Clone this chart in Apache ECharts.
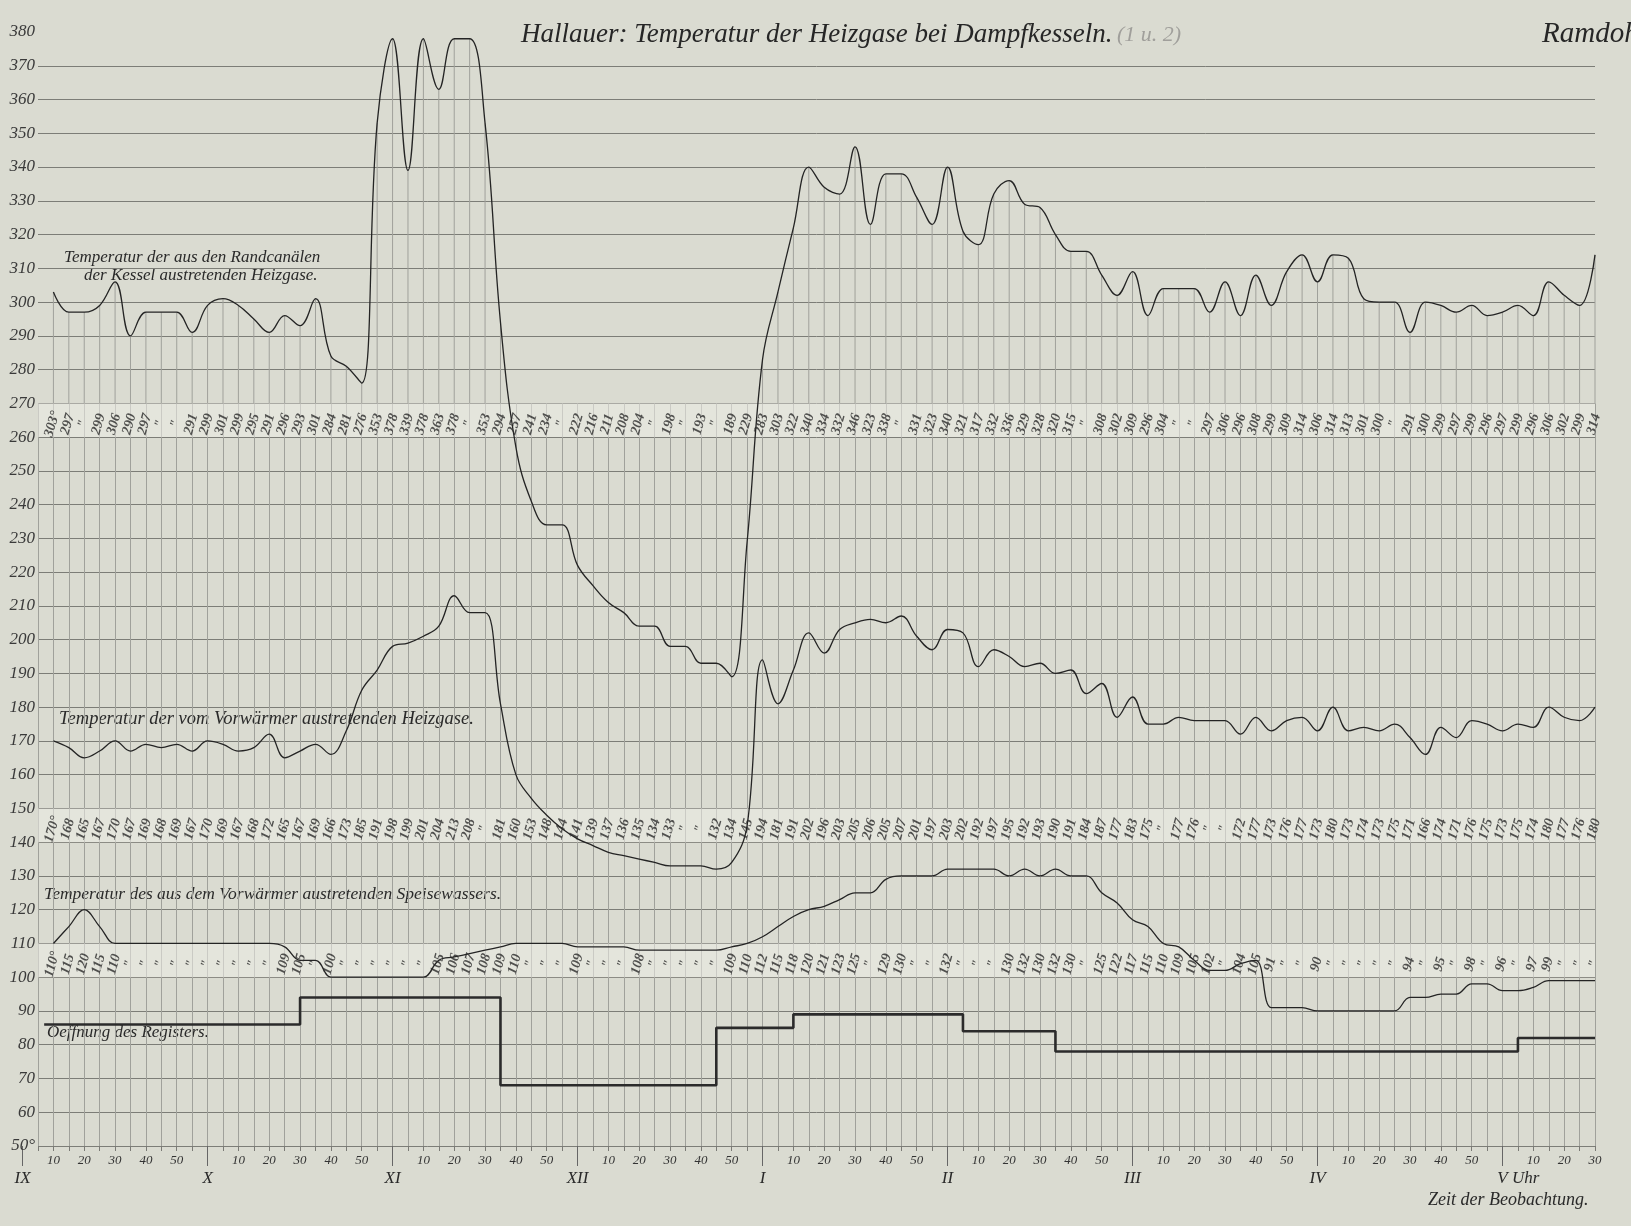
<!DOCTYPE html>
<html><head><meta charset="utf-8">
<script src="https://cdn.jsdelivr.net/npm/echarts@6/dist/echarts.min.js"></script>
<style>html,body{margin:0;padding:0;background:#dadbd1}#c{width:1631px;height:1226px}</style>
</head><body><div id="c"></div>
<script>
// ---- data (minutes after 9:00) ----
const startMinute = 10;   // first reading 9:10
const stepMinutes = 5;
// Temperatur der aus den Randcanälen der Kessel austretenden Heizgase
const randcanalTemp = [303,297,297,299,306,290,297,297,297,291, 299,301,299,295,291,296,293,301,284,281,
  276,353,378,339,378,363,378,378,353,294, 257,241,234,234,222,216,211,208,204,204,
  198,198,193,193,189,229,283,303,322,340, 334,332,346,323,338,338,331,323,340,321,
  317,332,336,329,328,320,315,315,308,302, 309,296,304,304,304,297,306,296,308,299,
  309,314,306,314,313,301,300,300,291,300, 299,297,299,296,297,299,296,306,302,299, 314];
// Temperatur der vom Vorwärmer austretenden Heizgase
const vorwaermerGasTemp = [170,168,165,167,170,167,169,168,169,167, 170,169,167,168,172,165,167,169,166,173,
  185,191,198,199,201,204,213,208,208,181, 160,153,148,144,141,139,137,136,135,134,
  133,133,133,132,134,145,194,181,191,202, 196,203,205,206,205,207,201,197,203,202,
  192,197,195,192,193,190,191,184,187,177, 183,175,175,177,176,176,176,172,177,173,
  176,177,173,180,173,174,173,175,171,166, 174,171,176,175,173,175,174,180,177,176, 180];
// Temperatur des aus dem Vorwärmer austretenden Speisewassers
const speisewasserTemp = [110,115,120,115,110,110,110,110,110,110, 110,110,110,110,110,109,105,105,100,100,
  100,100,100,100,100,105,106,107,108,109, 110,110,110,110,109,109,109,109,108,108,
  108,108,108,108,109,110,112,115,118,120, 121,123,125,125,129,130,130,130,132,132,
  132,132,130,132,130,132,130,130,125,122, 117,115,110,109,105,102,102,104,105,91,
  91,91,90,90,90,90,90,90,94,94, 95,95,98,98,96,96,97,99,99,99, 99];
// Oeffnung des Registers (step changes)
const registerTimes  = [7, 90, 155, 225, 250, 305, 335, 485, 510];
const registerValues = [86, 94, 68, 85, 89, 84, 78, 82, 82];
// axis labels
const hourValues = [0, 60, 120, 180, 240, 300, 360, 420, 480];
const hourLabels = ['IX', 'X', 'XI', 'XII', 'I', 'II', 'III', 'IV', 'V Uhr'];
const minuteLabels = ['10', '20', '30', '40', '50'];
const bandLevels = {randcanal: 265, vorwaermer: 145, speisewasser: 105};

// ---- layout ----
const W = 1631, H = 1226;
const L = 38, R = 36, TOP = 32, BOTTOM = 80;
const X_MIN = 5, X_MAX = 510, Y_MIN = 50, Y_MAX = 380;
const ppm = (W - L - R) / (X_MAX - X_MIN);
const ppu = (H - TOP - BOTTOM) / (Y_MAX - Y_MIN);
const serif = "'Liberation Serif','DejaVu Serif',serif";

const times = randcanalTemp.map((_, i) => startMinute + i * stepMinutes);
const pairs = arr => arr.map((v, i) => [times[i], v]);
function bandData(arr, level) {
  return arr.map((v, i) => {
    let t = (i > 0 && arr[i - 1] === v) ? '"' : String(v);
    if (i === 0) t += '°';
    return [times[i], level, t];
  });
}
const regData = registerTimes.map((t, i) => [t, registerValues[i]]);

const lineCol = '#242424';
const gridH = '#7c7d77', gridV = '#a0a19b';
const bandLabel = {
  show: true, position: 'inside', rotate: 74, offset: [-4, 0],
  formatter: p => p.data[2], fontFamily: serif, fontStyle: 'italic', fontWeight: 'bold',
  fontSize: 14, color: '#2a2a2a'
};
function labelSeries(arr, level, withBands) {
  const s = {
    type: 'scatter', xAxisIndex: 0, yAxisIndex: 0, symbolSize: 1,
    itemStyle: {color: 'rgba(0,0,0,0)'}, data: bandData(arr, level), label: bandLabel,
    silent: true, z: 6
  };
  if (withBands) {
    s.markArea = {silent: true, itemStyle: {color: 'rgba(236,237,230,0.55)'},
      data: [[{yAxis: 260}, {yAxis: 270}], [{yAxis: 140}, {yAxis: 150}], [{yAxis: 100}, {yAxis: 110}]]};
  }
  return s;
}
const textStyleBase = {fontFamily: serif, fontStyle: 'italic', fill: '#2a2a2a'};

const option = {
  backgroundColor: '#dadbd1',
  animation: false,
  title: [
    {text: 'Hallauer: Temperatur der Heizgase bei Dampfkesseln.', left: 516, top: 16,
      textStyle: {fontFamily: serif, fontStyle: 'italic', fontWeight: 'normal', fontSize: 27, color: '#262626'}},
    {text: '(1 u. 2)', left: 1112, top: 19,
      textStyle: {fontFamily: serif, fontStyle: 'italic', fontWeight: 'normal', fontSize: 22, color: '#a09f9b'}},
    {text: 'Ramdohr', left: 1537, top: 15,
      textStyle: {fontFamily: serif, fontStyle: 'italic', fontWeight: 'normal', fontSize: 29, color: '#262626'}}
  ],
  grid: [
    {left: L, right: R, top: TOP, bottom: BOTTOM},
    {left: L, right: R, top: TOP + (Y_MAX - 270) * ppu, bottom: BOTTOM},
    {left: L - (X_MIN - 0) * ppm, right: R, top: TOP, bottom: BOTTOM}
  ],
  xAxis: [
    {gridIndex: 0, type: 'value', min: X_MIN, max: X_MAX, interval: 5,
      axisLine: {show: false}, axisTick: {show: false}, axisLabel: {show: false}, splitLine: {show: false}},
    {gridIndex: 1, type: 'value', min: X_MIN, max: X_MAX, interval: 5,
      axisLine: {show: false},
      axisTick: {show: true, length: 5, lineStyle: {color: '#7a7a75'}},
      axisLabel: {margin: 8, fontFamily: serif, fontStyle: 'italic', fontSize: 13, color: '#333',
        formatter: v => { const m = v % 60; return minuteLabels.includes(String(m)) ? String(m) : ''; }},
      splitLine: {show: true, lineStyle: {color: gridV, width: 1}}},
    {gridIndex: 2, type: 'value', min: 0, max: X_MAX, interval: 60,
      axisLine: {show: false},
      axisTick: {show: true, length: 20, customValues: hourValues, lineStyle: {color: '#666'}},
      axisLabel: {margin: 24, customValues: hourValues, fontFamily: serif, fontStyle: 'italic', fontSize: 17, color: '#2a2a2a',
        formatter: v => { const i = hourValues.indexOf(v); if (i < 0) return ''; const s = hourLabels[i];
          return s.indexOf(' ') > 0 ? '{h|' + s.slice(s.indexOf(' ')) + '}' + s : s; },
        rich: {h: {color: 'rgba(0,0,0,0)', fontFamily: serif, fontStyle: 'italic', fontSize: 17}}},
      splitLine: {show: false}}
  ],
  yAxis: [
    {gridIndex: 0, type: 'value', min: Y_MIN, max: Y_MAX, interval: 10,
      axisLine: {show: false}, axisTick: {show: false},
      axisLabel: {margin: 3, fontFamily: serif, fontStyle: 'italic', fontSize: 17, color: '#3a3a3a',
        formatter: v => v === Y_MIN ? v + '°' : String(v)},
      splitLine: {show: true, showMaxLine: false, lineStyle: {color: gridH, width: 1}}},
    {gridIndex: 1, type: 'value', min: Y_MIN, max: 270, show: false},
    {gridIndex: 2, type: 'value', min: Y_MIN, max: Y_MAX, show: false}
  ],
  series: [
    {type: 'custom', xAxisIndex: 0, yAxisIndex: 0, silent: true, z: 2,
      data: pairs(randcanalTemp),
      renderItem: (params, api) => {
        const x = api.value(0), v = api.value(1);
        if (v <= 270) return null;
        const a = api.coord([x, 270]), b = api.coord([x, v]);
        return {type: 'line', shape: {x1: a[0], y1: a[1], x2: b[0], y2: b[1]},
          style: {stroke: gridV, lineWidth: 1}};
      }},
    {name: 'Randcanäle', type: 'line', xAxisIndex: 0, yAxisIndex: 0, data: pairs(randcanalTemp),
      smooth: 0.4, symbol: 'none', clip: false, lineStyle: {color: lineCol, width: 1.3}, z: 5},
    {name: 'Vorwärmer Heizgase', type: 'line', xAxisIndex: 0, yAxisIndex: 0, data: pairs(vorwaermerGasTemp),
      smooth: 0.4, symbol: 'none', lineStyle: {color: lineCol, width: 1.3}, z: 5},
    {name: 'Speisewasser', type: 'line', xAxisIndex: 0, yAxisIndex: 0, data: pairs(speisewasserTemp),
      smooth: 0.4, symbol: 'none', lineStyle: {color: lineCol, width: 1.3}, z: 5},
    {name: 'Register', type: 'line', xAxisIndex: 0, yAxisIndex: 0, data: regData, step: 'end',
      symbol: 'none', lineStyle: {color: '#2b2b2b', width: 2.6}, z: 5},
    labelSeries(randcanalTemp, bandLevels.randcanal, true),
    labelSeries(vorwaermerGasTemp, bandLevels.vorwaermer, false),
    labelSeries(speisewasserTemp, bandLevels.speisewasser, false)
  ],
  graphic: [
    {type: 'text', left: 64, top: 249, style: Object.assign({text: 'Temperatur der aus den Randcanälen', fontSize: 17}, textStyleBase)},
    {type: 'text', left: 84, top: 267, style: Object.assign({text: 'der Kessel austretenden Heizgase.', fontSize: 17}, textStyleBase)},
    {type: 'text', left: 59, top: 710, style: Object.assign({text: 'Temperatur der vom Vorwärmer austretenden Heizgase.', fontSize: 18.5}, textStyleBase)},
    {type: 'text', left: 44, top: 885, style: Object.assign({text: 'Temperatur des aus dem Vorwärmer austretenden Speisewassers.', fontSize: 17.5}, textStyleBase)},
    {type: 'text', left: 47, top: 1024, style: Object.assign({text: 'Oeffnung des Registers.', fontSize: 17}, textStyleBase)},
    {type: 'text', left: 1428, top: 1191, style: Object.assign({text: 'Zeit der Beobachtung.', fontSize: 18}, textStyleBase)}
  ]
};
const chart = echarts.init(document.getElementById('c'), null, {renderer: 'canvas'});
chart.setOption(option);
</script>
</body></html>
